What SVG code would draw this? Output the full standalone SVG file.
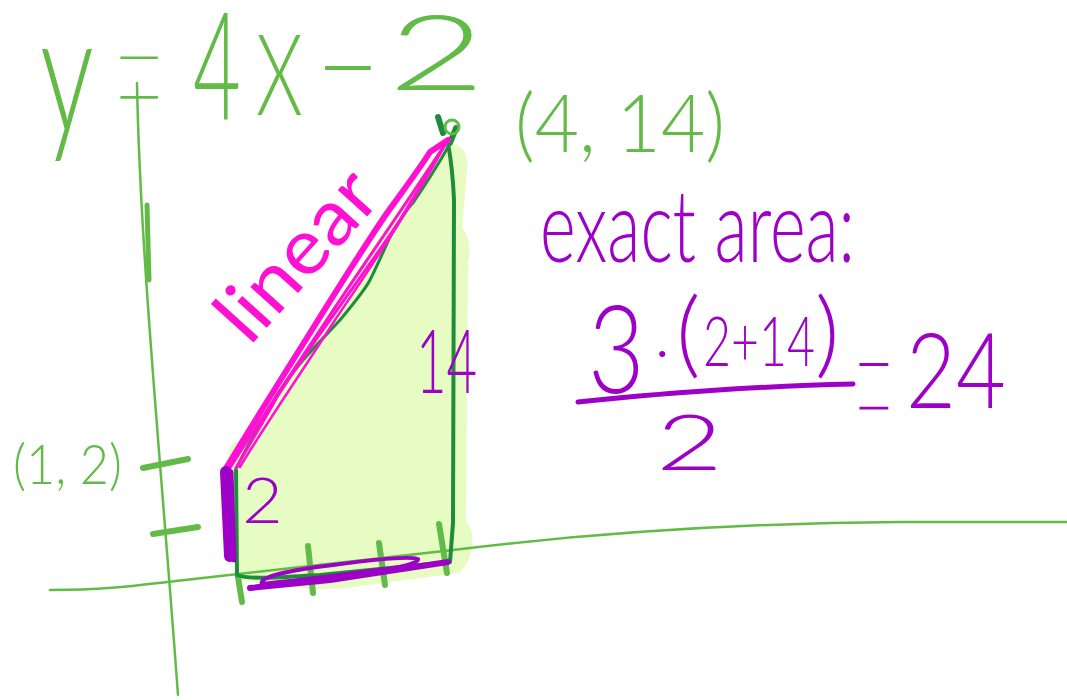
<svg xmlns="http://www.w3.org/2000/svg" width="1067" height="700" viewBox="0 0 1067 700">
<style>
.g{fill:#62bb46;font-family:Lato,"Liberation Sans",sans-serif;font-weight:300}
.p{fill:#9d00c6;font-family:Lato,"Liberation Sans",sans-serif;font-weight:300}
.m{fill:#ff10d2;font-family:Lato,"Liberation Sans",sans-serif;font-weight:400}
.eq{font-weight:100}
.ax{fill:none;stroke:#62bb46;stroke-linecap:round;stroke-linejoin:round}
.dg{fill:none;stroke:#1f8c3c;stroke-linecap:round;stroke-linejoin:round}
.mg{fill:none;stroke:#ff10d2;stroke-linecap:round;stroke-linejoin:round}
.pp{fill:none;stroke:#9d00c6;stroke-linecap:round;stroke-linejoin:round}
</style>
<rect width="1067" height="700" fill="#ffffff"/>

<g id="area-fill">
<path d="M229,462 C226,446 234,440 244,441 L443,142 C458,142 470,150 467,170 L462,228 C470,238 471,250 468,262 L466,522 C478,532 472,566 458,573 L360,586 C330,591 300,590 275,584 L240,581 L232,480 Z" fill="#e6fcc3"/>
</g>

<g id="axes">
<path class="ax" d="M137,83 C140,250 160,450 178,695" stroke-width="2.5"/>
<path class="ax" d="M147,205 L149,280" stroke-width="5"/>
<path class="ax" d="M50,590 C110,590 140,585 176,581 L453,550 C600,532 750,523 900,522 L1067,522" stroke-width="2.5"/>
<path class="ax" d="M143,468 L188,459" stroke-width="6"/>
<path class="ax" d="M153,534 L198,527" stroke-width="6"/>
<path class="ax" d="M238,577 L242,602" stroke-width="6"/>
<path class="ax" d="M308,546 L313,593" stroke-width="6"/>
<path class="ax" d="M379,543 L385,585" stroke-width="6"/>
<path class="ax" d="M439,524 L447,573" stroke-width="6"/>
</g>

<g id="region-outline">
<path class="dg" d="M237,467 C250,440 265,415 278,393 C300,360 322,340 340,320 C355,302 365,290 370,280 C380,260 386,245 392,233 C400,220 406,210 413,203 C425,185 438,165 448,147" stroke-width="3"/>
<path class="dg" d="M236,470 L237,575 C250,580 280,577 320,575 L450,562 L453,523 L454,200 C453,175 451,160 448,143" stroke-width="4"/>
<path class="dg" d="M438,117 L443,133 M456,128 L450,143" stroke-width="6"/>
<circle cx="452" cy="127" r="7" fill="none" stroke="#62bb46" stroke-width="3"/>
</g>

<g id="linear-segment">
<path class="mg" d="M225,470 C255,420 290,365 310,333 C340,285 365,245 387,213 C405,188 420,168 430,152 L448,140" stroke-width="6"/>
<path class="mg" d="M230,468 C260,420 300,360 330,315 C360,270 395,220 448,140" stroke-width="3"/>
<path class="mg" d="M236,468 C258,430 270,410 277,397 C310,345 360,280 400,220 L448,140" stroke-width="3"/>
<path class="mg" d="M240,467 C265,425 300,375 335,320 C370,268 410,210 446,143" stroke-width="2.5"/>
</g>

<g id="vertical-bar">
<path class="pp" d="M226,472 L230,556" stroke-width="12"/>
<path class="pp" d="M231,472 L234,560" stroke-width="5"/>
</g>

<g id="base-loop">
<path class="pp" d="M250,588 L330,580 L448,562" stroke-width="6"/>
<path class="pp" d="M262,584 C258,577 290,570 333,565 C370,560 410,556 418,559 C420,563 395,569 383,569 C350,574 300,580 262,584 Z" stroke-width="4"/>
</g>

<g id="equation">
<text class="g" font-size="165" transform="translate(40,132) scale(0.65,1)">y</text>
<text class="g eq" font-size="120" transform="translate(112,169) scale(0.78,2.25)">=</text>
<text class="g" font-size="150" transform="translate(193,120) scale(0.55,1)">4</text>
<text class="g" font-size="112" transform="translate(256,115) scale(0.67,1)">X</text>
<text class="g" font-size="110" transform="translate(316,105)">−</text>
<text class="g" font-size="105" transform="translate(388,90) scale(1.6,1)">2</text>
</g>

<g id="label-4-14">
<text class="g" font-size="80" x="515" y="152" textLength="210" lengthAdjust="spacingAndGlyphs">(4, 14)</text>
</g>

<g id="label-1-2">
<text class="g" font-size="56" x="13" y="484" textLength="109" lengthAdjust="spacingAndGlyphs">(1, 2)</text>
</g>

<g id="label-linear">
<text class="m" font-size="78" text-anchor="middle" transform="translate(300,258) rotate(-48)" x="0" y="22" textLength="200" lengthAdjust="spacingAndGlyphs">linear</text>
</g>

<g id="label-14">
<text class="p" font-size="88" transform="translate(416,393) scale(0.6,1)">14</text>
</g>

<g id="label-2">
<text class="p" font-size="64" transform="translate(242,523) scale(1.1,1)">2</text>
</g>

<g id="exact-area">
<text class="p" font-size="100" x="540" y="262" textLength="315" lengthAdjust="spacingAndGlyphs">exact area:</text>
<text class="p" font-size="122" transform="translate(588,393) scale(0.8,1)">3</text>
<text class="p" font-size="60" x="655" y="372">·</text>
<text class="p" y="366"><tspan x="676" font-size="95">(</tspan><tspan x="703" font-size="68" textLength="112" lengthAdjust="spacingAndGlyphs">2+14</tspan><tspan x="815" font-size="95">)</tspan></text>
<path class="pp" d="M578,402 C650,394 760,386 853,384" stroke-width="5"/>
<text class="p" font-size="77" transform="translate(656,470) scale(1.5,1)">2</text>
<text class="p eq" font-size="120" transform="translate(853,487) scale(0.6,2.48)">=</text>
<text class="p" font-size="105" transform="translate(906,408) scale(0.82,1)">24</text>
</g>
</svg>
